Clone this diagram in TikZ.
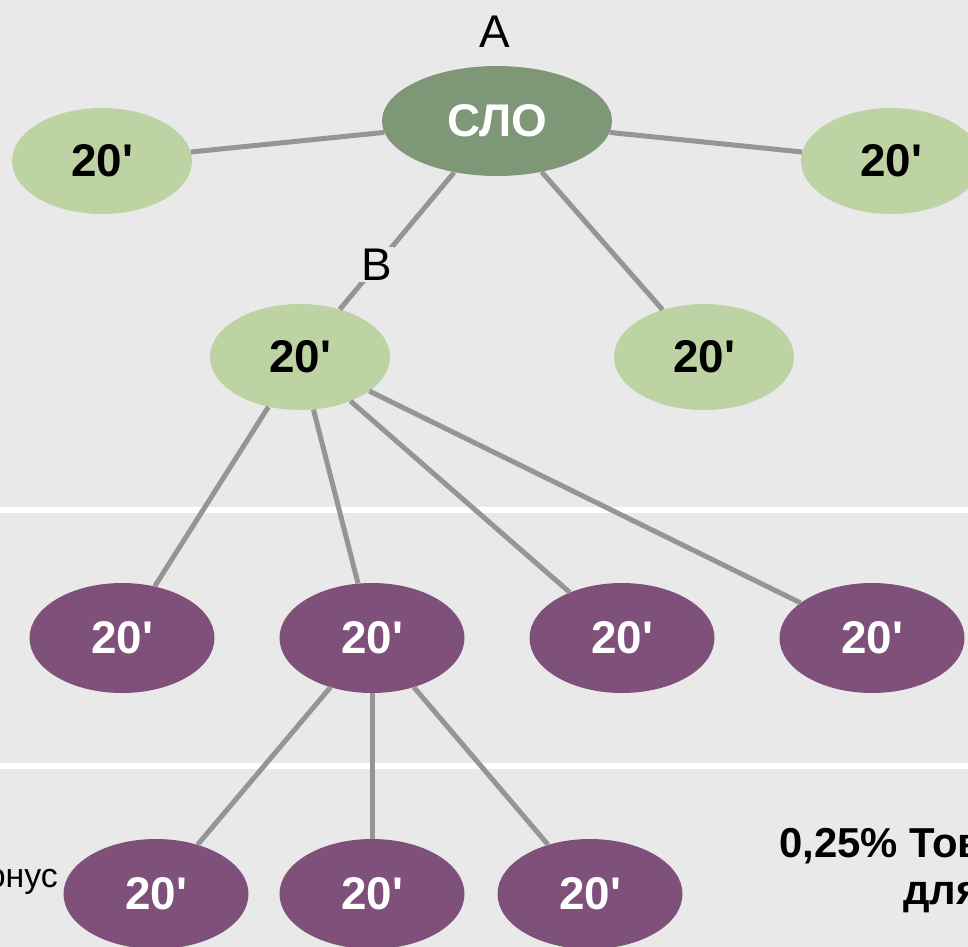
\documentclass[tikz,border=0pt]{standalone}
\usepackage{fontspec}
\setmainfont{Liberation Sans}[Ligatures=TeXOff]
\usetikzlibrary{shapes.geometric}
\definecolor{bg}{HTML}{E9E9E9}
\definecolor{lgreen}{HTML}{BED3A3}
\definecolor{dgreen}{HTML}{7D9777}
\definecolor{purp}{HTML}{7E507A}
\definecolor{edgec}{HTML}{959595}
\begin{document}
\begin{tikzpicture}[x=1bp,y=-1bp,
  bigbold/.style={font=\fontsize{46}{50}\selectfont\bfseries},
  gnode/.style={ellipse, fill=lgreen, minimum width=180bp, minimum height=106bp, inner sep=0pt, bigbold},
  pnode/.style={ellipse, fill=purp, minimum width=185bp, minimum height=110bp, inner sep=0pt, text=white, bigbold},
  rootnode/.style={ellipse, fill=dgreen, minimum width=230bp, minimum height=110bp, inner sep=0pt, text=white, bigbold},
  conn/.style={draw=edgec, line width=5bp},
  sepline/.style={draw=white, line width=6bp},
  lbl/.style={font=\fontsize{46}{50}\selectfont, inner sep=1.5bp},
  note/.style={font=\fontsize{42}{46}\selectfont\bfseries, inner sep=0pt, anchor=base west}
]
\useasboundingbox[fill=bg] (0,0) rectangle (968,947);
\coordinate (s1a) at (0,510); \coordinate (s1b) at (968,510);
\coordinate (s2a) at (0,766); \coordinate (s2b) at (968,766);
\draw[sepline] (s1a) -- (s1b);
\draw[sepline] (s2a) -- (s2b);

\node[rootnode] (slo) at (497,121) {СЛО};
\node[gnode] (g1) at (102,161) {20'};
\node[gnode] (g2) at (891,161) {20'};
\node[gnode] (gb) at (300,357) {20'};
\node[gnode] (gm) at (704,357) {20'};

\node[pnode] (p1) at (122,638) {20'};
\node[pnode] (p2) at (372,638) {20'};
\node[pnode] (p3) at (622,638) {20'};
\node[pnode] (p4) at (872,638) {20'};

\node[pnode] (q1) at (156,894) {20'};
\node[pnode] (q2) at (372,894) {20'};
\node[pnode] (q3) at (590,894) {20'};

\draw[conn] (slo) -- (g1);
\draw[conn] (slo) -- (g2);
\draw[conn] (slo) -- (gb);
\draw[conn] (slo) -- (gm);
\draw[conn] (gb) -- (p1);
\draw[conn] (gb) -- (p2);
\draw[conn] (gb) -- (p3);
\draw[conn] (gb) -- (p4);
\draw[conn] (p2) -- (q1);
\draw[conn] (p2) -- (q2);
\draw[conn] (p2) -- (q3);

\node[lbl, anchor=base] (la) at (495,47) {A};
\node[lbl, anchor=base, fill=bg] (lb) at (377,280) {B};
\node[font=\fontsize{34}{38}\selectfont, inner sep=0pt, anchor=base east] (bonus) at (58,887) {Бонус};
\node[note] (n1) at (779,857) {0,25\% Тов};
\node[note] (n2) at (903,904) {для};
\end{tikzpicture}
\end{document}
